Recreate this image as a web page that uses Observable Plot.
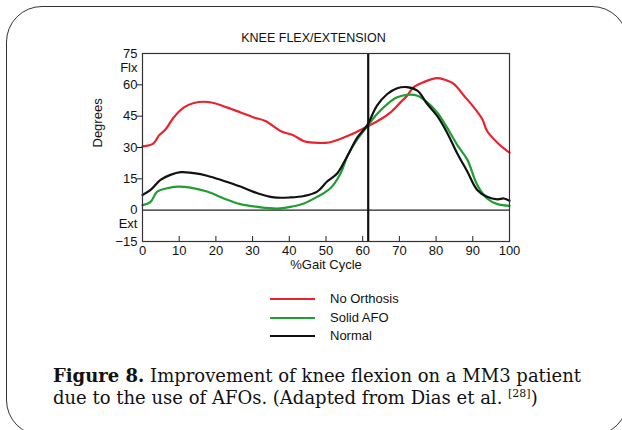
<!DOCTYPE html>
<html>
<head>
<meta charset="utf-8">
<script src="https://cdn.jsdelivr.net/npm/d3@7"></script>
<script src="https://cdn.jsdelivr.net/npm/@observablehq/plot@0.6"></script>
<style>
  html, body { margin: 0; padding: 0; background: #fff; }
  body { width: 622px; height: 430px; position: relative; overflow: hidden; font-family: "Liberation Sans", Arial, sans-serif; }
  #card { position: absolute; left: 6px; top: 6px; width: 622px; height: 430px; border: 1.6px solid #333; border-radius: 36px; box-sizing: border-box; }
  #title { position: absolute; left: 0; width: 627px; top: 31px; text-align: center; font-size: 12.5px; color: #111; }
  #chart { position: absolute; left: 0; top: 0; }
  #legend { position: absolute; left: 270px; top: 290px; font-size: 13px; color: #111; }
  .li { position: relative; height: 18.7px; }
  .li .sw { position: absolute; left: 0; top: 8px; width: 45px; height: 0; border-top: 2.5px solid; }
  .li .lb { position: absolute; left: 60px; top: 1px; white-space: nowrap; }
  #caption { position: absolute; left: 53px; top: 365px; font-family: "DejaVu Serif", serif; font-size: 18px; line-height: 22px; color: #111; white-space: nowrap; }
</style>
</head>
<body>
<div id="card"></div>
<div id="title">KNEE FLEX/EXTENSION</div>
<div id="chart"></div>
<div id="legend"></div>
<div id="caption"><b>Figure 8.</b> Improvement of knee flexion on a MM3 patient<br>due to the use of AFOs. (Adapted from Dias et al. <sup style="font-size:11px;line-height:0">[28]</sup>)</div>
<script>
// ---- data ----
const seriesNames = ["No Orthosis", "Solid AFO", "Normal"];
const seriesColors = ["#e8232e", "#1f9e33", "#111111"];

const noOrthosisX = [0, 3, 4.5, 6.3, 8.5, 11.3, 14, 16.7, 19.4, 23, 26.7, 30.3, 33.5, 37.6, 41.2, 44, 46.7, 50.8, 54, 57.6, 61.2, 64.9, 67.6, 70.3, 72.1, 73.9, 76.6, 80.3, 82.1, 84.8, 87.6, 90.3, 92.6, 93.9, 96.7, 100];
const noOrthosisY = [30.5, 32, 35.8, 38.7, 44.4, 49.2, 51.3, 51.9, 51.3, 49.2, 46.8, 44.4, 42.7, 37.9, 35.8, 33.0, 32.3, 32.4, 34.2, 36.8, 40.0, 43.5, 46.8, 51.6, 54.8, 58.9, 61.3, 63.2, 62.6, 60.5, 54.8, 49.2, 43.5, 37.9, 32.3, 27.5];

const solidAfoX = [0, 2.2, 4, 6.7, 9.5, 13.1, 17.6, 22.2, 26.7, 31.3, 36.7, 40.3, 44, 47.6, 51.2, 54, 55.8, 58.5, 61.2, 63.9, 66.7, 69.4, 72.1, 74.9, 77.6, 80.3, 83, 85.7, 88.5, 91.2, 93.9, 96.7, 100];
const solidAfoY = [2.4, 4.0, 8.9, 10.5, 11.3, 10.8, 8.9, 5.6, 2.9, 1.6, 0.8, 1.6, 3.2, 6.4, 10.5, 17.7, 25.8, 33.9, 40.0, 46, 50.8, 54, 55.2, 54.8, 51.6, 46.8, 39.5, 31.4, 24.2, 12.1, 5.6, 2.9, 2.1];

const normalX = [0, 2.2, 4.9, 7.6, 10.4, 14, 17.6, 22.2, 26.7, 31.3, 35.8, 40.3, 44, 47.6, 50.3, 53.1, 55.8, 58.5, 61.2, 63.9, 66.7, 69.4, 72.1, 74.9, 77.6, 80.3, 83, 85.7, 88.5, 91.2, 93.9, 96.7, 98.5, 100];
const normalY = [7.3, 9.7, 14.5, 16.9, 18.2, 17.7, 16.5, 14.0, 11.3, 8.1, 6.1, 6.1, 6.8, 8.9, 13.7, 17.7, 25.8, 34.7, 40.6, 50.0, 55.6, 58.4, 58.9, 57.2, 50.8, 45.1, 37.1, 27.4, 18.5, 9.7, 6.4, 5.2, 5.6, 4.5];

const xTicks = [0, 10, 20, 30, 40, 50, 60, 70, 80, 90, 100];
const yTickLabels = [75, 60, 45, 30, 15, 0, -15];
const yTickMarks = [60, 45, 30, 15];
const toeOff = 61.5; // vertical marker (% gait cycle)
const xDomain = [0, 100];
const yDomain = [-15, 75];

// ---- build table ----
const rows = [];
[[noOrthosisX, noOrthosisY], [solidAfoX, solidAfoY], [normalX, normalY]].forEach(([xs, ys], i) => {
  xs.forEach((x, j) => rows.push({series: seriesNames[i], x, y: ys[j]}));
});

const font = "Liberation Sans, Arial, sans-serif";
const chart = Plot.plot({
  width: 622,
  height: 280,
  marginLeft: 142,
  marginRight: 113,
  marginTop: 53,
  marginBottom: 39,
  style: {fontFamily: font, fontSize: "13px", color: "#111", background: "transparent"},
  x: {domain: xDomain},
  y: {domain: yDomain},
  color: {domain: seriesNames, range: seriesColors},
  marks: [
    Plot.line(rows, {x: "x", y: "y", z: "series", stroke: "series", strokeWidth: 2.2, curve: "catmull-rom"}),
    Plot.ruleY([0], {stroke: "#222", strokeWidth: 1.2}),
    Plot.ruleX([toeOff], {stroke: "#111", strokeWidth: 2.2}),
    Plot.frame({stroke: "#333", strokeWidth: 1.2}),
    Plot.axisY({ticks: yTickMarks, tickSize: 5, tickFormat: () => "", stroke: "#222", label: null}),
    Plot.axisY({ticks: yTickLabels, tickSize: 0, tickPadding: 5, fontSize: 13, label: null}),
    Plot.text(["Degrees"], {frameAnchor: "left", dx: -45, rotate: -90, fontSize: 13}),
    Plot.text([{y: 68.3, t: "Flx"}], {x: 0, y: "y", text: "t", dx: -5, textAnchor: "end", fontSize: 13}),
    Plot.text([{y: -6.5, t: "Ext"}], {x: 0, y: "y", text: "t", dx: -5, textAnchor: "end", fontSize: 13}),
    Plot.axisX({ticks: xTicks.slice(1, -1), tickSize: -5, tickFormat: () => "", stroke: "#222", label: null}),
    Plot.axisX({ticks: xTicks, tickSize: 0, tickPadding: 4, fontSize: 13, label: null}),
    Plot.text(["%Gait Cycle"], {frameAnchor: "bottom", dy: 27, fontSize: 13})
  ]
});
document.getElementById("chart").appendChild(chart);

// ---- legend ----
const legend = document.getElementById("legend");
seriesNames.forEach((n, i) => {
  const d = document.createElement("div");
  d.className = "li";
  d.innerHTML = `<span class="sw" style="border-color:${seriesColors[i]}"></span><span class="lb">${n}</span>`;
  legend.appendChild(d);
});
</script>
</body>
</html>
